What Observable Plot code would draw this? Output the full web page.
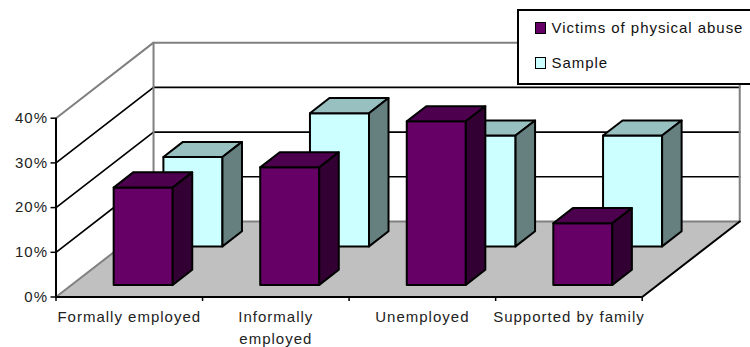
<!DOCTYPE html>
<html>
<head>
<meta charset="utf-8">
<script src="https://cdn.jsdelivr.net/npm/d3@7"></script>
<script src="https://cdn.jsdelivr.net/npm/@observablehq/plot@0.6"></script>
<style>
html,body{margin:0;padding:0;background:#fff;overflow:hidden}
#wrap{position:relative;width:750px;height:347px;font-family:"Liberation Sans",Arial,sans-serif}
#wrap svg{display:block}
#legend{position:absolute;left:516.5px;top:9px;width:240px;height:72px;border:2px solid #000;background:#fff;font-size:15px;letter-spacing:.95px;color:#111}
#legend div{position:absolute;left:33px;line-height:16px;white-space:nowrap}
#legend i{position:absolute;left:-17px;top:2px;width:9.5px;height:9.5px;border:1.5px solid #000}
</style>
</head>
<body>
<div id="wrap"><div id="legend"></div></div>
<script>
const categories = ["Formally employed", "Informally\nemployed", "Unemployed", "Supported by family"];
const victims = [21.8, 26.3, 36.6, 13.8];
const sample = [20, 29.8, 24.8, 24.8];
const yTicks = [0, 10, 20, 30, 40];
const seriesNames = ["Victims of physical abuse", "Sample"];

// Oblique projection in data units: depth t (0 front, 1 back) shifts x and y.
const depthX = 0.6655, depthY = 16.9;
const P = (c, v, t) => ({x: c + depthX * t, y: v + depthY * t});
const barX0 = 0.287, barX1 = 0.69;
const tint = {
  victims: {front: "#660066", top: "#4d004d", side: "#330033"},
  sample: {front: "#ccffff", top: "#99c0c0", side: "#668080"}
};
const seriesSpec = [
  {key: "sample", values: sample, t0: 0.67, t1: 0.87},
  {key: "victims", values: victims, t0: 0.16, t1: 0.36}
];

const faces = [];
for (const s of seriesSpec) s.values.forEach((v, i) => {
  const a = i + barX0, b = i + barX1, {t0, t1} = s;
  const add = (name, pts) => [...pts, pts[0]].forEach(p => faces.push({...p, z: `${s.key}-${i}-${name}`, fill: tint[s.key][name]}));
  add("front", [P(a, 0, t0), P(b, 0, t0), P(b, v, t0), P(a, v, t0)]);
  add("top", [P(a, v, t0), P(b, v, t0), P(b, v, t1), P(a, v, t1)]);
  add("side", [P(b, 0, t0), P(b, 0, t1), P(b, v, t1), P(b, v, t0)]);
});

const n = categories.length, yMax = yTicks[yTicks.length - 1];
const seg = (pts, z) => pts.map(p => ({...p, z}));
const grid = yTicks.slice(1, -1).flatMap(v => seg([P(0, v, 0), P(0, v, 1), P(n, v, 1)], `g${v}`));
const wallEdges = [
  ...seg([P(0, yMax, 0), P(0, yMax, 1), P(n, yMax, 1), P(n, 0, 1)], "top"),
  ...seg([P(0, 0, 1), P(0, yMax, 1)], "back")
];
const floor = [P(0, 0, 0), P(n, 0, 0), P(n, 0, 1), P(0, 0, 1), P(0, 0, 0)];
const floorBackEdge = seg([P(0, 0, 0), P(0, 0, 1), P(n, 0, 1)], "f");
const floorFrontEdge = seg([P(n, 0, 1), P(n, 0, 0)], "r");
const ln = (d, o) => Plot.line(d, {x: "x", y: "y", z: "z", curve: "linear", ...o});

const chart = Plot.plot({
  width: 750, height: 347,
  marginLeft: 55.5, marginRight: 108.3, marginTop: 117.7, marginBottom: 50.5,
  x: {type: "linear", domain: [0, n], range: [55.5, 641.7], axis: null},
  y: {type: "linear", domain: [0, yMax], range: [296.5, 117.7], axis: null},
  style: {fontFamily: '"Liberation Sans",Arial,sans-serif', fontSize: "15px", letterSpacing: "1px", color: "#222", background: "#fff", overflow: "visible"},
  marks: [
    ln(grid, {stroke: "#000", strokeWidth: 1.7}),
    ln(wallEdges, {stroke: "#808080", strokeWidth: 2}),
    Plot.line(floor, {x: "x", y: "y", curve: "linear", fill: "#c0c0c0", stroke: "none"}),
    ln(floorBackEdge, {stroke: "#808080", strokeWidth: 2}),
    ln(floorFrontEdge, {stroke: "#000", strokeWidth: 2}),
    ln(faces, {fill: "fill", stroke: "#000", strokeWidth: 2, strokeLinejoin: "round"}),
    Plot.ruleX([0], {y1: 0, y2: yMax, stroke: "#000", strokeWidth: 2}),
    Plot.ruleY([0], {x1: 0, x2: n, stroke: "#000", strokeWidth: 2}),
    Plot.ruleX(d3.range(n + 1), {x: d => d, y1: 0, y2: -1, stroke: "#000", strokeWidth: 1.5}),
    Plot.axisY({ticks: yTicks, tickFormat: d => d + "%", tickSize: 5, tickPadding: 3, label: null, anchor: "left", stroke: "#000", strokeWidth: 1.5}),
    Plot.text(categories, {x: (d, i) => i + 0.5, y: 0, text: d => d, dy: 9, lineAnchor: "top", textAnchor: "middle", lineHeight: 1.47})
  ]
});
document.getElementById("wrap").prepend(chart);

const legend = document.getElementById("legend");
const sw = [tint.victims.front, tint.sample.front];
seriesNames.forEach((name, i) => {
  const row = document.createElement("div");
  row.style.top = (i ? 44 : 9) + "px";
  row.textContent = name;
  const box = document.createElement("i");
  box.style.background = sw[i];
  row.prepend(box);
  legend.append(row);
});
</script>
</body>
</html>
